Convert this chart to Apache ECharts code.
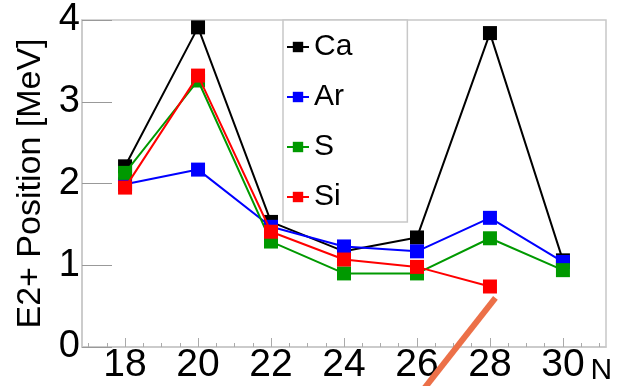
<!DOCTYPE html>
<html><head><meta charset="utf-8">
<script src="https://cdn.jsdelivr.net/npm/echarts@6/dist/echarts.min.js"></script>
<style>html,body{margin:0;padding:0;background:#fff}#c{width:620px;height:386px}</style>
</head><body><div id="c"></div>
<script>
const neutronNumbers = [18, 20, 22, 24, 26, 28, 30];
const caValues = [2.21, 3.91, 1.53, 1.17, 1.34, 3.84, 1.06];
const arValues = [1.99, 2.17, 1.47, 1.23, 1.17, 1.58, 1.04];
const sValues  = [2.13, 3.26, 1.29, 0.90, 0.90, 1.33, 0.94];
const siValues = [1.95, 3.32, 1.41, 1.07, 0.98, 0.74];
const seriesNames = ['Ca', 'Ar', 'S', 'Si'];
const xMajorTicks = [18, 20, 22, 24, 26, 28, 30];
const xMinorTicks = [17, 17.5, 18.5, 19, 19.5, 20.5, 21, 21.5, 22.5, 23, 23.5, 24.5, 25, 25.5, 26.5, 27, 27.5, 28.5, 29, 29.5, 30.5, 31];
const yTicks = [0, 1, 2, 3, 4];
const annotationLine = [[28.15, 0.60], [26.0, -0.62]];

const FONT = 'Liberation Sans';
const colors = ['#000000', '#0000ff', '#009900', '#ff0000'];
const valueSets = [caValues, arValues, sValues, siValues];
const pairs = v => v.map((y, i) => [neutronNumbers[i], y]);

const chart = echarts.init(document.getElementById('c'), null, {renderer: 'canvas'});
const baseX = {
  type: 'value', min: 16.82, max: 31.18, position: 'bottom',
  splitLine: {show: false}
};
chart.setOption({
  animation: false,
  backgroundColor: '#fff',
  grid: {left: 82, right: 14, top: 20, bottom: 37, show: true, borderColor: '#c8c8c8', borderWidth: 1.5, backgroundColor: 'transparent'},
  legend: {
    data: seriesNames, orient: 'vertical', left: 283, top: 20,
    padding: [12, 55, 10, 3], itemGap: 20, itemWidth: 22, itemHeight: 13,
    backgroundColor: '#fff', borderColor: '#c8c8c8', borderWidth: 1.5,
    textStyle: {fontFamily: FONT, fontSize: 30, color: '#000', lineHeight: 30},
    itemStyle: {borderWidth: 0}
  },
  xAxis: [
    Object.assign({}, baseX, {
      name: 'N', nameLocation: 'end', nameGap: 0,
      nameTextStyle: {fontFamily: FONT, fontSize: 30, color: '#000', align: 'right', verticalAlign: 'top', padding: [9, 0, 0, 0]},
      axisLine: {show: true, lineStyle: {color: '#c8c8c8', width: 1.5}},
      axisTick: {show: true, inside: true, length: 9, customValues: xMajorTicks, lineStyle: {color: '#aaa', width: 1}},
      axisLabel: {customValues: xMajorTicks, fontFamily: FONT, fontSize: 39, color: '#000', margin: -1}
    }),
    Object.assign({}, baseX, {
      axisLine: {show: false},
      axisTick: {show: true, inside: true, length: 4, customValues: xMinorTicks, lineStyle: {color: '#aaa', width: 1}},
      axisLabel: {show: false}
    })
  ],
  yAxis: {
    type: 'value', min: 0, max: 4, interval: 1,
    name: 'E2+ Position [MeV]', nameLocation: 'middle', nameRotate: 90, nameGap: 32,
    nameTextStyle: {fontFamily: FONT, fontSize: 34, color: '#000'},
    splitLine: {show: false},
    axisLine: {show: true, lineStyle: {color: '#c8c8c8', width: 1.5}},
    axisTick: {show: true, inside: true, length: 30, customValues: yTicks, lineStyle: {color: '#999', width: 1}},
    axisLabel: {fontFamily: FONT, fontSize: 38, color: '#000', margin: 2, customValues: yTicks}
  },
  series: seriesNames.map((n, i) => ({
    name: n, type: 'line', xAxisIndex: 0, data: pairs(valueSets[i]),
    symbol: 'rect', symbolSize: 14, showSymbol: true,
    lineStyle: {color: colors[i], width: 2}, itemStyle: {color: colors[i]},
    z: 2 + i * 0.01
  })).concat([{
    name: 'annotation', type: 'line', data: annotationLine, symbol: 'none', clip: false, silent: true,
    lineStyle: {color: '#ec7048', width: 6}, z: 5
  }])
});
</script></body></html>
